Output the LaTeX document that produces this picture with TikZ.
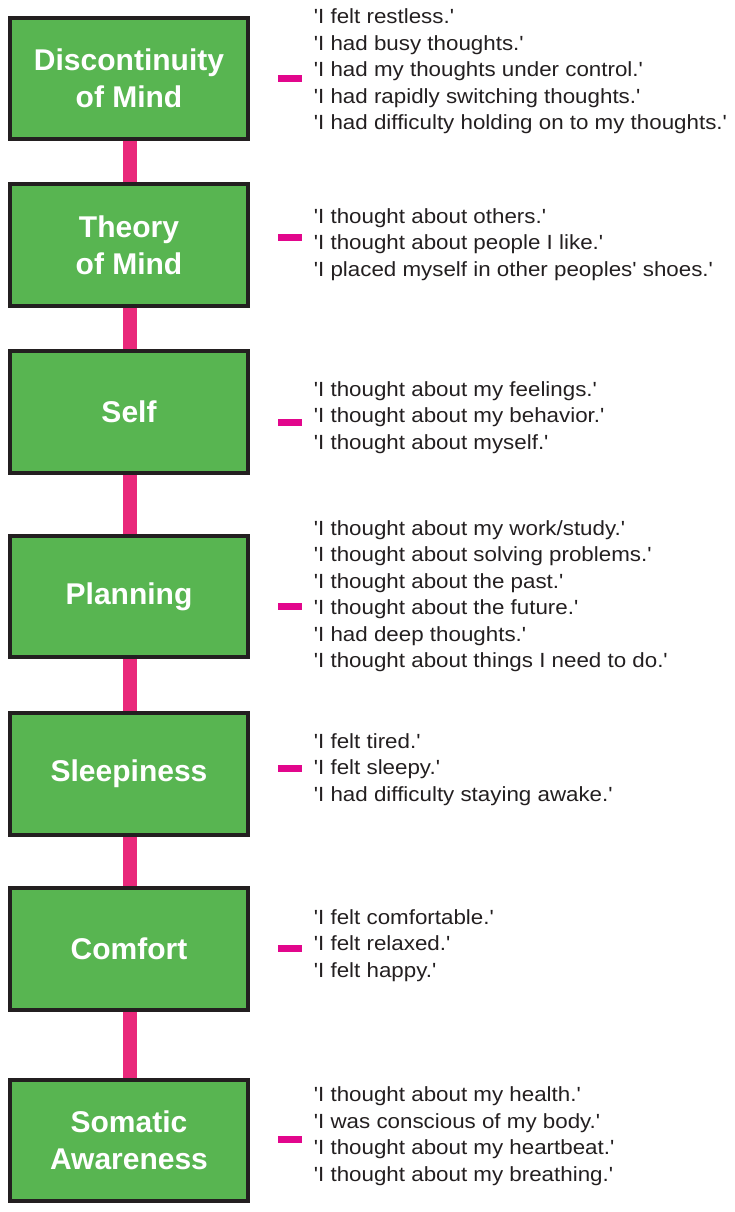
\documentclass[tikz,border=0pt]{standalone}
\usepackage{fontspec}
\setmainfont{Liberation Sans}[Ligatures=NoCommon]
\newfontfamily\itemfont{Liberation Sans}[FakeStretch=1.09,Ligatures=NoCommon]
\definecolor{boxgreen}{HTML}{58B551}
\definecolor{boxline}{HTML}{231F20}
\definecolor{linkpink}{HTML}{E9297B}
\definecolor{dashpink}{HTML}{E2068C}
\definecolor{itemtext}{HTML}{231F20}
\tikzset{
  factor/.style={rectangle, draw=boxline, line width=4pt, fill=boxgreen,
    minimum width=238pt, minimum height=121.5pt, inner sep=0pt,
    text=white, align=center, font=\bfseries\fontsize{30}{37}\selectfont},
  link/.style={draw=linkpink, line width=14pt},
  dashmark/.style={rectangle, fill=dashpink, minimum width=24pt, minimum height=7pt, inner sep=0pt},
  items/.style={anchor=west, align=left, inner sep=0pt, text=itemtext,
    font=\itemfont\fontsize{20.5}{26.5}\selectfont}
}
\begin{document}
\begin{tikzpicture}[x=1pt,y=-1pt]
\useasboundingbox (0,0) rectangle (734,1212);
\node[factor] (b1) at (129,78.3) {Discontinuity\\of Mind};
\node[factor] (b2) at (129,244.8) {Theory\\of Mind};
\node[factor] (b3) at (129,412) {Self};
\node[factor] (b4) at (129,596.5) {Planning};
\node[factor] (b5) at (129,774) {Sleepiness};
\node[factor] (b6) at (129,949) {Comfort};
\node[factor] (b7) at (129,1140.5) {Somatic\\Awareness};
\draw[link] ([xshift=1pt]b1.south) -- ([xshift=1pt]b2.north);
\draw[link] ([xshift=1pt]b2.south) -- ([xshift=1pt]b3.north);
\draw[link] ([xshift=1pt]b3.south) -- ([xshift=1pt]b4.north);
\draw[link] ([xshift=1pt]b4.south) -- ([xshift=1pt]b5.north);
\draw[link] ([xshift=1pt]b5.south) -- ([xshift=1pt]b6.north);
\draw[link] ([xshift=1pt]b6.south) -- ([xshift=1pt]b7.north);
\node[dashmark] (d1) at (290,78.5) {};
\node[dashmark] (d2) at (290,237.7) {};
\node[dashmark] (d3) at (290,422.5) {};
\node[dashmark] (d4) at (290,606) {};
\node[dashmark] (d5) at (290,768) {};
\node[dashmark] (d6) at (290,948.5) {};
\node[dashmark] (d7) at (290,1139.3) {};
\node[items] (t1) at (313.7,71.7) {'I felt restless.'\\'I had busy thoughts.'\\'I had my thoughts under control.'\\'I had rapidly switching thoughts.'\\'I had difficulty holding on to my thoughts.'};
\node[items] (t2) at (313.7,244.5) {'I thought about others.'\\'I thought about people I like.'\\'I placed myself in other peoples' shoes.'};
\node[items] (t3) at (313.7,417.2) {'I thought about my feelings.'\\'I thought about my behavior.'\\'I thought about myself.'};
\node[items] (t4) at (313.7,596) {'I thought about my work/study.'\\'I thought about solving problems.'\\'I thought about the past.'\\'I thought about the future.'\\'I had deep thoughts.'\\'I thought about things I need to do.'};
\node[items] (t5) at (313.7,769.5) {'I felt tired.'\\'I felt sleepy.'\\'I had difficulty staying awake.'};
\node[items] (t6) at (313.7,945.2) {'I felt comfortable.'\\'I felt relaxed.'\\'I felt happy.'};
\node[items] (t7) at (313.7,1136.2) {'I thought about my health.'\\'I was conscious of my body.'\\'I thought about my heartbeat.'\\'I thought about my breathing.'};
\end{tikzpicture}
\end{document}
